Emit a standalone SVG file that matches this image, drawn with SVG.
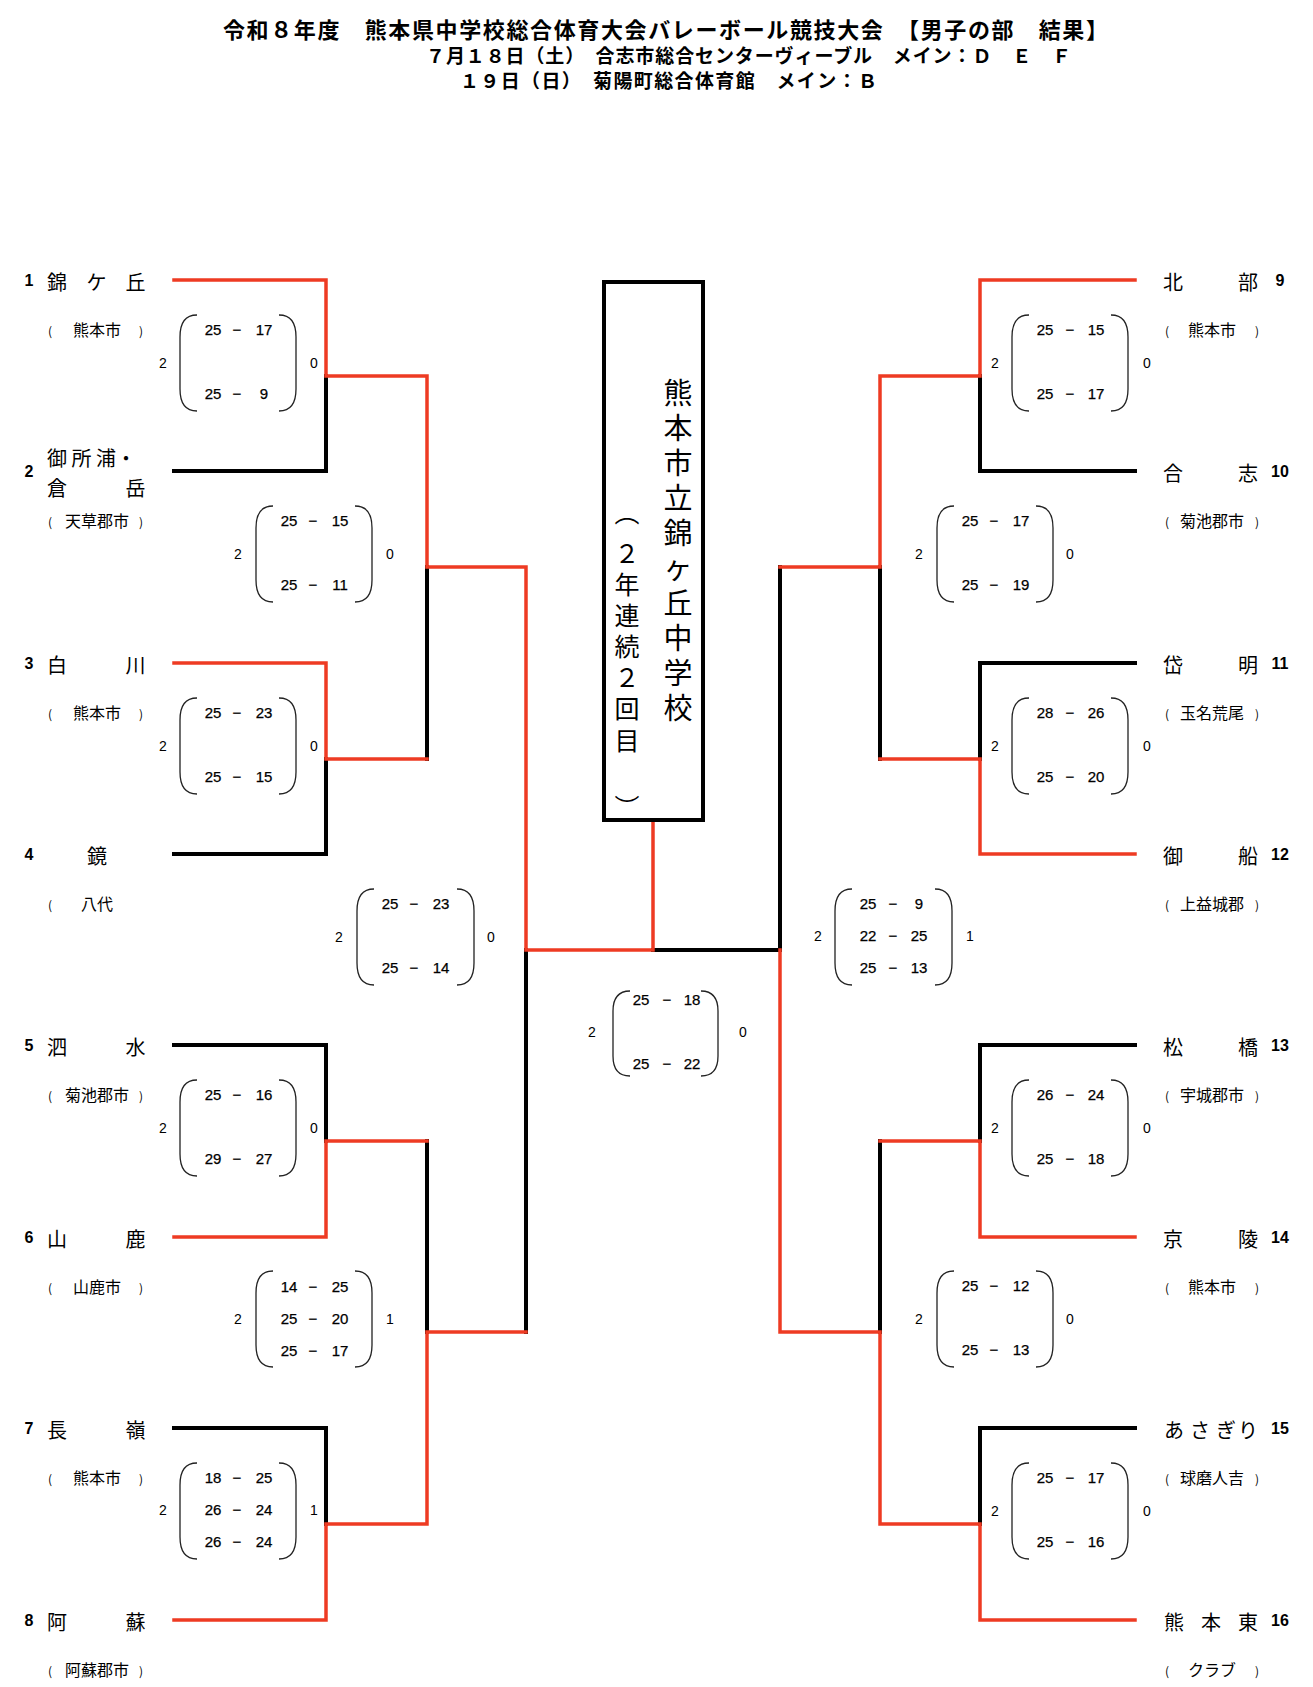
<svg xmlns="http://www.w3.org/2000/svg" width="1313" height="1687" viewBox="0 0 1313 1687">
<style>
.r{stroke:#EE3B23;stroke-width:3.5;fill:none;stroke-linecap:square}
.k{stroke:#000;stroke-width:4;fill:none;stroke-linecap:square}
.p{stroke:#222;stroke-width:1.3;fill:none}
.ti{font-family:"Noto Sans CJK JP",sans-serif;font-weight:bold;fill:#000}
.num{font-family:"Liberation Sans",Arial,sans-serif;font-weight:bold;font-size:16px;text-anchor:middle}
.nm{font-family:"Noto Sans CJK JP",sans-serif;font-size:20px}
.rg{font-family:"Noto Sans CJK JP",sans-serif;font-size:16px;text-anchor:middle}
.pr{font-size:12px}
.sc{font-family:"Liberation Sans",Arial,sans-serif;font-size:15px;text-anchor:middle;stroke:#000;stroke-width:0.25}
.sd{font-family:"Liberation Sans",Arial,sans-serif;font-size:14px;text-anchor:middle}
.v1{font-family:"Noto Sans CJK JP",sans-serif;font-size:29px;text-anchor:middle}
.v2{font-family:"Noto Sans CJK JP",sans-serif;font-size:25px;text-anchor:middle}
</style>
<defs>
<path id="lp" class="p" d="M17,0 C5,0 0,8 0,22 L0,74 C0,88 5,96 17,96"/>
<path id="rp" class="p" d="M-17,0 C-5,0 0,8 0,22 L0,74 C0,88 -5,96 -17,96"/>
<path id="lpf" class="p" d="M17,0 C5,0 0,8 0,20 L0,65 C0,77 5,85 17,85"/>
<path id="rpf" class="p" d="M-17,0 C-5,0 0,8 0,20 L0,65 C0,77 -5,85 -17,85"/>
</defs>
<rect width="1313" height="1687" fill="#fff"/>

<g id="title">
<text class="ti" x="223" y="38" font-size="22" textLength="885" lengthAdjust="spacing">令和８年度　熊本県中学校総合体育大会バレーボール競技大会　【男子の部　結果】</text>
<text class="ti" x="426" y="63" font-size="19" textLength="645" lengthAdjust="spacing">７月１８日（土）　合志市総合センターヴィーブル　メイン：Ｄ　Ｅ　Ｆ</text>
<text class="ti" x="460" y="88" font-size="19" textLength="417" lengthAdjust="spacing">１９日（日）　菊陽町総合体育館　メイン：Ｂ</text>
</g>

<g id="connectors">
<path class="k" d="M174,471 H326 V376"/>
<path class="k" d="M174,854 H326 V759"/>
<path class="k" d="M427,567 V759"/>
<path class="k" d="M174,1045 H326 V1141"/>
<path class="k" d="M174,1428 H326 V1524"/>
<path class="k" d="M427,1141 V1332"/>
<path class="k" d="M526,950 V1332"/>
<path class="k" d="M653,950 H780"/>
<path class="k" d="M1135,471 H980 V376"/>
<path class="k" d="M1135,663 H980 V759"/>
<path class="k" d="M880,567 V759"/>
<path class="k" d="M780,567 V950"/>
<path class="k" d="M1135,1045 H980 V1141"/>
<path class="k" d="M1135,1428 H980 V1524"/>
<path class="k" d="M880,1141 V1332"/>
<path class="r" d="M174,280 H326 V376 H427 V567 H526 V950 H653 V822"/>
<path class="r" d="M174,663 H326 V759 H427"/>
<path class="r" d="M174,1237 H326 V1141 H427"/>
<path class="r" d="M174,1620 H326 V1524 H427 V1332 H526"/>
<path class="r" d="M1135,280 H980 V376 H880 V567 H780"/>
<path class="r" d="M1135,854 H980 V759 H880"/>
<path class="r" d="M1135,1237 H980 V1141 H880"/>
<path class="r" d="M1135,1620 H980 V1524 H880 V1332 H780 V950"/>
</g>

<g id="champion">
<rect x="604" y="282" width="99" height="538" fill="#fff" stroke="#000" stroke-width="4"/>
<text class="v1" x="678 678 678 678 678 678 678 678 678 678" y="404 439 474 509 544 579 614 649 684 719">熊本市立錦ヶ丘中学校</text>
<text class="v2" x="627 627 627 627 627 627 627 627 627" y="522 563 594 625 656 687 718 750 817">︵２年連続２回目︶</text>
</g>

<g id="team-1"><text class="num" x="29" y="286">1</text><text class="nm" x="47 86.5 125.5" y="289.5">錦ケ丘</text><text class="rg" y="336"><tspan class="pr" x="50">(</tspan><tspan x="97">熊本市</tspan><tspan class="pr" x="141">)</tspan></text></g>
<g id="team-2"><text class="num" x="29" y="477">2</text><text class="nm" font-size="21" x="47 71.5 96 116" y="466">御所浦・</text><text class="nm" x="47 125.5" y="496">倉岳</text><text class="rg" y="527"><tspan class="pr" x="50">(</tspan><tspan x="97">天草郡市</tspan><tspan class="pr" x="141">)</tspan></text></g>
<g id="team-3"><text class="num" x="29" y="669">3</text><text class="nm" x="47 125.5" y="672.5">白川</text><text class="rg" y="719"><tspan class="pr" x="50">(</tspan><tspan x="97">熊本市</tspan><tspan class="pr" x="141">)</tspan></text></g>
<g id="team-4"><text class="num" x="29" y="860">4</text><text class="nm" x="87" y="863.5">鏡</text><text class="rg" y="910"><tspan class="pr" x="50">(</tspan><tspan x="97">八代</tspan></text></g>
<g id="team-5"><text class="num" x="29" y="1051">5</text><text class="nm" x="47 125.5" y="1054.5">泗水</text><text class="rg" y="1101"><tspan class="pr" x="50">(</tspan><tspan x="97">菊池郡市</tspan><tspan class="pr" x="141">)</tspan></text></g>
<g id="team-6"><text class="num" x="29" y="1243">6</text><text class="nm" x="47 125.5" y="1246.5">山鹿</text><text class="rg" y="1293"><tspan class="pr" x="50">(</tspan><tspan x="97">山鹿市</tspan><tspan class="pr" x="141">)</tspan></text></g>
<g id="team-7"><text class="num" x="29" y="1434">7</text><text class="nm" x="47 125.5" y="1437.5">長嶺</text><text class="rg" y="1484"><tspan class="pr" x="50">(</tspan><tspan x="97">熊本市</tspan><tspan class="pr" x="141">)</tspan></text></g>
<g id="team-8"><text class="num" x="29" y="1626">8</text><text class="nm" x="47 125.5" y="1629.5">阿蘇</text><text class="rg" y="1676"><tspan class="pr" x="50">(</tspan><tspan x="97">阿蘇郡市</tspan><tspan class="pr" x="141">)</tspan></text></g>

<g id="team-9"><text class="num" x="1280" y="286">9</text><text class="nm" x="1163 1238" y="289.5">北部</text><text class="rg" y="336"><tspan class="pr" x="1167">(</tspan><tspan x="1212">熊本市</tspan><tspan class="pr" x="1257">)</tspan></text></g>
<g id="team-10"><text class="num" x="1280" y="477">10</text><text class="nm" x="1163 1238" y="480.5">合志</text><text class="rg" y="527"><tspan class="pr" x="1167">(</tspan><tspan x="1212">菊池郡市</tspan><tspan class="pr" x="1257">)</tspan></text></g>
<g id="team-11"><text class="num" x="1280" y="669">11</text><text class="nm" x="1163 1238" y="672.5">岱明</text><text class="rg" y="719"><tspan class="pr" x="1167">(</tspan><tspan x="1212">玉名荒尾</tspan><tspan class="pr" x="1257">)</tspan></text></g>
<g id="team-12"><text class="num" x="1280" y="860">12</text><text class="nm" x="1163 1238" y="863.5">御船</text><text class="rg" y="910"><tspan class="pr" x="1167">(</tspan><tspan x="1212">上益城郡</tspan><tspan class="pr" x="1257">)</tspan></text></g>
<g id="team-13"><text class="num" x="1280" y="1051">13</text><text class="nm" x="1163 1238" y="1054.5">松橋</text><text class="rg" y="1101"><tspan class="pr" x="1167">(</tspan><tspan x="1212">宇城郡市</tspan><tspan class="pr" x="1257">)</tspan></text></g>
<g id="team-14"><text class="num" x="1280" y="1243">14</text><text class="nm" x="1163 1238" y="1246.5">京陵</text><text class="rg" y="1293"><tspan class="pr" x="1167">(</tspan><tspan x="1212">熊本市</tspan><tspan class="pr" x="1257">)</tspan></text></g>
<g id="team-15"><text class="num" x="1280" y="1434">15</text><text class="nm" x="1164 1190 1216 1238" y="1437.5">あさぎり</text><text class="rg" y="1484"><tspan class="pr" x="1167">(</tspan><tspan x="1212">球磨人吉</tspan><tspan class="pr" x="1257">)</tspan></text></g>
<g id="team-16"><text class="num" x="1280" y="1626">16</text><text class="nm" x="1164 1201 1238" y="1629.5">熊本東</text><text class="rg" y="1676"><tspan class="pr" x="1167">(</tspan><tspan x="1212">クラブ</tspan><tspan class="pr" x="1257">)</tspan></text></g>

<g id="score-1-2">
<use href="#lp" x="180" y="315"/><use href="#rp" x="296" y="315"/>
<text class="sd" x="163" y="368">2</text><text class="sd" x="314" y="368">0</text>
<text class="sc" y="335.4"><tspan x="213">25</tspan><tspan x="237">−</tspan><tspan x="264">17</tspan></text>
<text class="sc" y="399.4"><tspan x="213">25</tspan><tspan x="237">−</tspan><tspan x="264">9</tspan></text>
</g>
<g id="score-3-4">
<use href="#lp" x="180" y="698"/><use href="#rp" x="296" y="698"/>
<text class="sd" x="163" y="751">2</text><text class="sd" x="314" y="751">0</text>
<text class="sc" y="718.4"><tspan x="213">25</tspan><tspan x="237">−</tspan><tspan x="264">23</tspan></text>
<text class="sc" y="782.4"><tspan x="213">25</tspan><tspan x="237">−</tspan><tspan x="264">15</tspan></text>
</g>
<g id="score-5-6">
<use href="#lp" x="180" y="1080"/><use href="#rp" x="296" y="1080"/>
<text class="sd" x="163" y="1133">2</text><text class="sd" x="314" y="1133">0</text>
<text class="sc" y="1100.4"><tspan x="213">25</tspan><tspan x="237">−</tspan><tspan x="264">16</tspan></text>
<text class="sc" y="1164.4"><tspan x="213">29</tspan><tspan x="237">−</tspan><tspan x="264">27</tspan></text>
</g>
<g id="score-7-8">
<use href="#lp" x="180" y="1463"/><use href="#rp" x="296" y="1463"/>
<text class="sd" x="163" y="1515">2</text><text class="sd" x="314" y="1515">1</text>
<text class="sc" y="1483.4"><tspan x="213">18</tspan><tspan x="237">−</tspan><tspan x="264">25</tspan></text>
<text class="sc" y="1515.4"><tspan x="213">26</tspan><tspan x="237">−</tspan><tspan x="264">24</tspan></text>
<text class="sc" y="1547.4"><tspan x="213">26</tspan><tspan x="237">−</tspan><tspan x="264">24</tspan></text>
</g>
<g id="score-left-sf1">
<use href="#lp" x="256" y="506"/><use href="#rp" x="372" y="506"/>
<text class="sd" x="238" y="559">2</text><text class="sd" x="390" y="559">0</text>
<text class="sc" y="526.4"><tspan x="289">25</tspan><tspan x="313">−</tspan><tspan x="340">15</tspan></text>
<text class="sc" y="590.4"><tspan x="289">25</tspan><tspan x="313">−</tspan><tspan x="340">11</tspan></text>
</g>
<g id="score-left-sf2">
<use href="#lp" x="256" y="1271"/><use href="#rp" x="372" y="1271"/>
<text class="sd" x="238" y="1324">2</text><text class="sd" x="390" y="1324">1</text>
<text class="sc" y="1292.4"><tspan x="289">14</tspan><tspan x="313">−</tspan><tspan x="340">25</tspan></text>
<text class="sc" y="1324.4"><tspan x="289">25</tspan><tspan x="313">−</tspan><tspan x="340">20</tspan></text>
<text class="sc" y="1356.4"><tspan x="289">25</tspan><tspan x="313">−</tspan><tspan x="340">17</tspan></text>
</g>
<g id="score-left-semi">
<use href="#lp" x="357" y="889"/><use href="#rp" x="474" y="889"/>
<text class="sd" x="339" y="942">2</text><text class="sd" x="491" y="942">0</text>
<text class="sc" y="909.4"><tspan x="390">25</tspan><tspan x="414">−</tspan><tspan x="441">23</tspan></text>
<text class="sc" y="973.4"><tspan x="390">25</tspan><tspan x="414">−</tspan><tspan x="441">14</tspan></text>
</g>
<g id="score-final">
<use href="#lpf" x="613" y="991"/><use href="#rpf" x="718" y="991"/>
<text class="sd" x="592" y="1037">2</text><text class="sd" x="743" y="1037">0</text>
<text class="sc" y="1005.4"><tspan x="641">25</tspan><tspan x="667">−</tspan><tspan x="692">18</tspan></text>
<text class="sc" y="1069.4"><tspan x="641">25</tspan><tspan x="667">−</tspan><tspan x="692">22</tspan></text>
</g>
<g id="score-right-semi">
<use href="#lp" x="835" y="889"/><use href="#rp" x="952" y="889"/>
<text class="sd" x="818" y="941">2</text><text class="sd" x="970" y="941">1</text>
<text class="sc" y="909.4"><tspan x="868">25</tspan><tspan x="893">−</tspan><tspan x="919">9</tspan></text>
<text class="sc" y="941.4"><tspan x="868">22</tspan><tspan x="893">−</tspan><tspan x="919">25</tspan></text>
<text class="sc" y="973.4"><tspan x="868">25</tspan><tspan x="893">−</tspan><tspan x="919">13</tspan></text>
</g>
<g id="score-right-sf1">
<use href="#lp" x="937" y="506"/><use href="#rp" x="1053" y="506"/>
<text class="sd" x="919" y="559">2</text><text class="sd" x="1070" y="559">0</text>
<text class="sc" y="526.4"><tspan x="970">25</tspan><tspan x="994">−</tspan><tspan x="1021">17</tspan></text>
<text class="sc" y="590.4"><tspan x="970">25</tspan><tspan x="994">−</tspan><tspan x="1021">19</tspan></text>
</g>
<g id="score-right-sf2">
<use href="#lp" x="937" y="1271"/><use href="#rp" x="1053" y="1271"/>
<text class="sd" x="919" y="1324">2</text><text class="sd" x="1070" y="1324">0</text>
<text class="sc" y="1291.4"><tspan x="970">25</tspan><tspan x="994">−</tspan><tspan x="1021">12</tspan></text>
<text class="sc" y="1355.4"><tspan x="970">25</tspan><tspan x="994">−</tspan><tspan x="1021">13</tspan></text>
</g>
<g id="score-9-10">
<use href="#lp" x="1012" y="315"/><use href="#rp" x="1128" y="315"/>
<text class="sd" x="995" y="368">2</text><text class="sd" x="1147" y="368">0</text>
<text class="sc" y="335.4"><tspan x="1045">25</tspan><tspan x="1070">−</tspan><tspan x="1096">15</tspan></text>
<text class="sc" y="399.4"><tspan x="1045">25</tspan><tspan x="1070">−</tspan><tspan x="1096">17</tspan></text>
</g>
<g id="score-11-12">
<use href="#lp" x="1012" y="698"/><use href="#rp" x="1128" y="698"/>
<text class="sd" x="995" y="751">2</text><text class="sd" x="1147" y="751">0</text>
<text class="sc" y="718.4"><tspan x="1045">28</tspan><tspan x="1070">−</tspan><tspan x="1096">26</tspan></text>
<text class="sc" y="782.4"><tspan x="1045">25</tspan><tspan x="1070">−</tspan><tspan x="1096">20</tspan></text>
</g>
<g id="score-13-14">
<use href="#lp" x="1012" y="1080"/><use href="#rp" x="1128" y="1080"/>
<text class="sd" x="995" y="1133">2</text><text class="sd" x="1147" y="1133">0</text>
<text class="sc" y="1100.4"><tspan x="1045">26</tspan><tspan x="1070">−</tspan><tspan x="1096">24</tspan></text>
<text class="sc" y="1164.4"><tspan x="1045">25</tspan><tspan x="1070">−</tspan><tspan x="1096">18</tspan></text>
</g>
<g id="score-15-16">
<use href="#lp" x="1012" y="1463"/><use href="#rp" x="1128" y="1463"/>
<text class="sd" x="995" y="1516">2</text><text class="sd" x="1147" y="1516">0</text>
<text class="sc" y="1483.4"><tspan x="1045">25</tspan><tspan x="1070">−</tspan><tspan x="1096">17</tspan></text>
<text class="sc" y="1547.4"><tspan x="1045">25</tspan><tspan x="1070">−</tspan><tspan x="1096">16</tspan></text>
</g>
</svg>
